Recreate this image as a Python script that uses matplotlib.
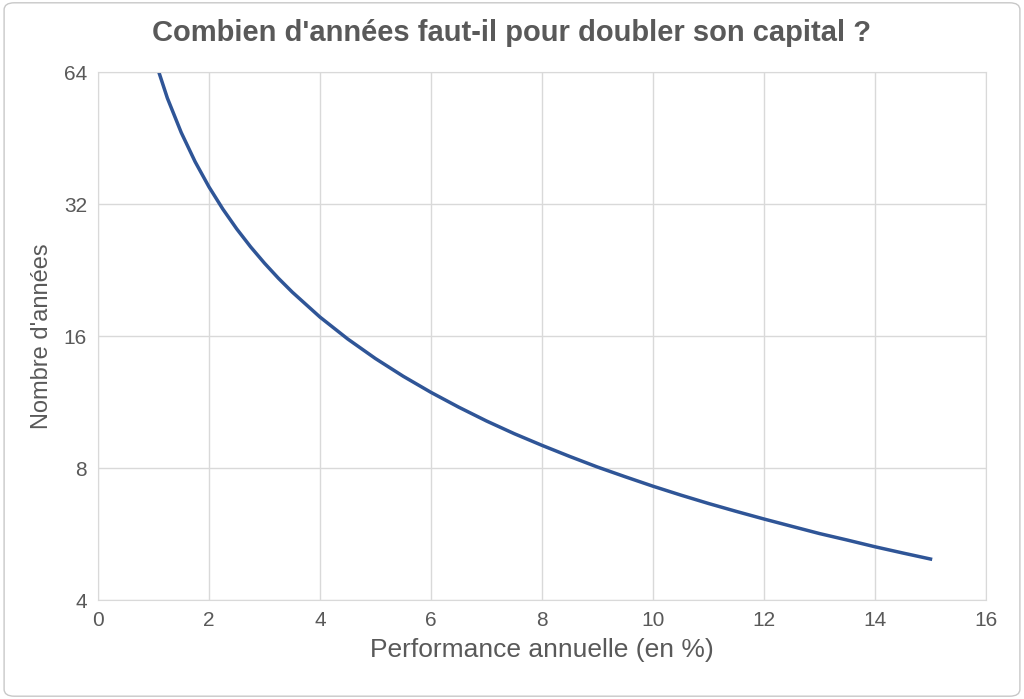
import matplotlib
matplotlib.use("Agg")
import matplotlib.pyplot as plt
from matplotlib.patches import FancyBboxPatch

rates = [1, 1.25, 1.5, 1.75, 2, 2.25, 2.5, 2.75, 3, 3.25, 3.5, 4, 4.5, 5, 5.5, 6, 6.5, 7, 7.5, 8, 8.5, 9, 9.5, 10,
         10.5, 11, 11.5, 12, 12.5, 13, 13.5, 14, 14.5, 15]
years = [69.66, 55.80, 46.56, 39.95, 35.0, 31.15, 28.07, 25.55, 23.45, 21.67, 20.15, 17.67, 15.75, 14.21, 12.95, 11.90,
         11.01, 10.24, 9.58, 9.01, 8.50, 8.04, 7.64, 7.27, 6.94, 6.64, 6.37, 6.12,
         5.89, 5.67, 5.48, 5.29, 5.12, 4.96]
yticks = [4, 8, 16, 32, 64]

plt.rcParams['font.family'] = ['Liberation Sans', 'DejaVu Sans']
fig = plt.figure(figsize=(10.24, 6.99), dpi=100)
ax = fig.add_axes([98/1024, 1-600/699, 888/1024, 528/699])
fig.patches.append(FancyBboxPatch((0.004, 0.004), 0.992, 0.992, boxstyle="round,pad=0,rounding_size=0.01",
                                  transform=fig.transFigure, fill=False, ec='#c8c8c8', lw=1))
ax.plot(rates, years, color='#2f5597', lw=2.5, clip_on=True)
ax.set_yscale('log', base=2)
ax.set_ylim(4, 64)
ax.set_xlim(0, 16)
ax.set_yticks(yticks)
ax.set_yticklabels([str(v) for v in yticks])
ax.minorticks_off()
ax.set_xticks(range(0, 17, 2))
ax.grid(True, color='#d9d9d9', lw=1)
for s in ax.spines.values():
    s.set_color('#d9d9d9')
ax.tick_params(length=0, labelsize=15, colors='#595959', pad=8)
ax.set_xlabel("Performance annuelle (en %)", fontsize=19, color='#595959', labelpad=6)
ax.set_ylabel("Nombre d'années", fontsize=17, color='#595959', labelpad=8)
fig.text(0.5, 0.953, "Combien d'années faut-il pour doubler son capital ?", ha='center', va='center',
         fontsize=21, fontweight='bold', color='#595959')
fig.savefig("out.png", dpi=100)
